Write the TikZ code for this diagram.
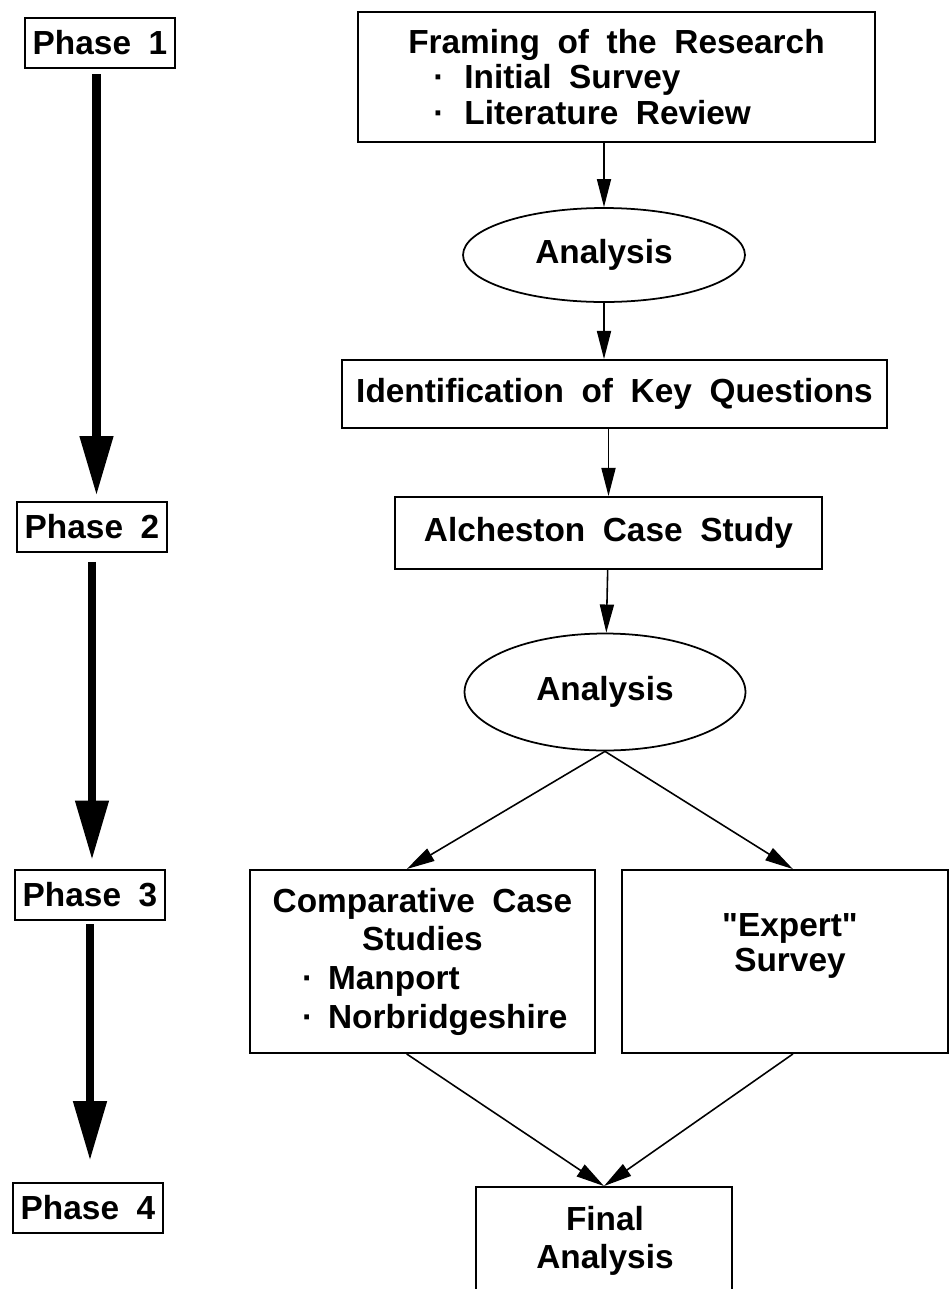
\documentclass[tikz,border=0pt]{standalone}
\usepackage{fontspec}
\setmainfont{Liberation Sans}[WordSpace=1.9, Ligatures=TeXOff]
\usetikzlibrary{arrows.meta,shapes.geometric}

\tikzset{
  phasebox/.style={draw, line width=1.1pt, minimum width=3cm, minimum height=1cm, inner sep=0pt},
  stagebox/.style={draw, line width=1.1pt, inner sep=0pt},
  oval/.style={draw, ellipse, line width=1pt, inner sep=0pt},
  flow/.style={line width=0.9pt, -{Triangle[length=16pt,width=8pt]}},
  phaseflow/.style={line width=5pt, -{Triangle[length=34pt,width=18pt]}},
}
\newcommand{\bitem}[1]{\makebox[6.32cm][l]{\hspace*{0.75cm}\textperiodcentered\hspace{0.3cm}#1}}

\begin{document}
\begin{tikzpicture}[x=0.02cm, y=-0.02cm, font=\bfseries\fontsize{19}{20}\selectfont]

        % Fix the page size
        \useasboundingbox (0,0) rectangle (949,1289);
        \clip (0,0) rectangle (949,1289);

        % Draw the phase boxes
        \node[phasebox] (p1) at (100,43) {Phase 1};
        \node[phasebox] (p2) at (92,527) {Phase 2};
        \node[phasebox] (p3) at (90,895) {Phase 3};
        \node[phasebox] (p4) at (88,1208) {Phase 4};

        % Draw the thick arrows between phases
        \draw[phaseflow, shorten <=3pt, shorten >=3pt] ([xshift=-2pt]p1.south) -- ([xshift=-2pt]p1.south |- p2.north);
        \draw[phaseflow, shorten <=5pt, shorten >=5pt] (p2.south) -- (p2.south |- p3.north);
        \draw[phaseflow, shorten <=2pt, shorten >=12pt] (p3.south) -- (p3.south |- p4.north);

        % Draw the research stages
        \node[stagebox, minimum width=10.34cm, minimum height=2.6cm, align=left] (frame) at (616.5,77)
          {Framing of the Research\\
           \hspace*{0.5cm}\textperiodcentered\hspace{0.4cm}Initial Survey\\
           \hspace*{0.5cm}\textperiodcentered\hspace{0.4cm}Literature Review};
        \node[oval, minimum width=5.64cm, minimum height=1.88cm] (ana1) at (604,255) {Analysis};
        \node[stagebox, minimum width=10.9cm, minimum height=1.36cm] (keyq) at (614.5,394) {Identification of Key Questions};
        \node[stagebox, minimum width=8.54cm, minimum height=1.44cm] (alch) at (608.5,533) {Alcheston Case Study};
        \node[oval, minimum width=5.62cm, minimum height=2.34cm] (ana2) at (605,692) {Analysis};

        % Draw the two parallel studies
        \node[stagebox, minimum width=6.9cm, minimum height=3.66cm, align=center,
              font=\bfseries\fontsize{19}{22}\selectfont] (comp) at (422.5,961.5)
          {Comparative Case\\ Studies\\ \bitem{Manport}\\ \bitem{Norbridgeshire}};
        \node[stagebox, minimum width=6.52cm, minimum height=3.66cm] (expert) at (785,961.5) {};
        \node[align=center] (experttxt) at (790,946) {"Expert"\\ Survey};

        % Draw the final stage
        \node[stagebox, minimum width=5.12cm, minimum height=3.2cm] (final) at (604,1267) {};
        \node[align=center, font=\bfseries\fontsize{19}{22}\selectfont] (finaltxt) at (605,1241) {Final\\ Analysis};

        % Connect the stages
        \draw[flow] (frame.south -| ana1) -- (ana1);
        \draw[flow] (ana1) -- (ana1 |- keyq.north);
        \draw[flow] (keyq.south -| alch) -- (alch);
        \draw[flow] (alch) -- (ana2);
        \draw[flow] (ana2.south) -- ([xshift=-9pt]comp.north);
        \draw[flow] (ana2.south) -- ([xshift=4.5pt]expert.north);
        \draw[flow] ([xshift=-9pt]comp.south) -- (final.north);
        \draw[flow] ([xshift=4.5pt]expert.south) -- (final.north);

\end{tikzpicture}
\end{document}
